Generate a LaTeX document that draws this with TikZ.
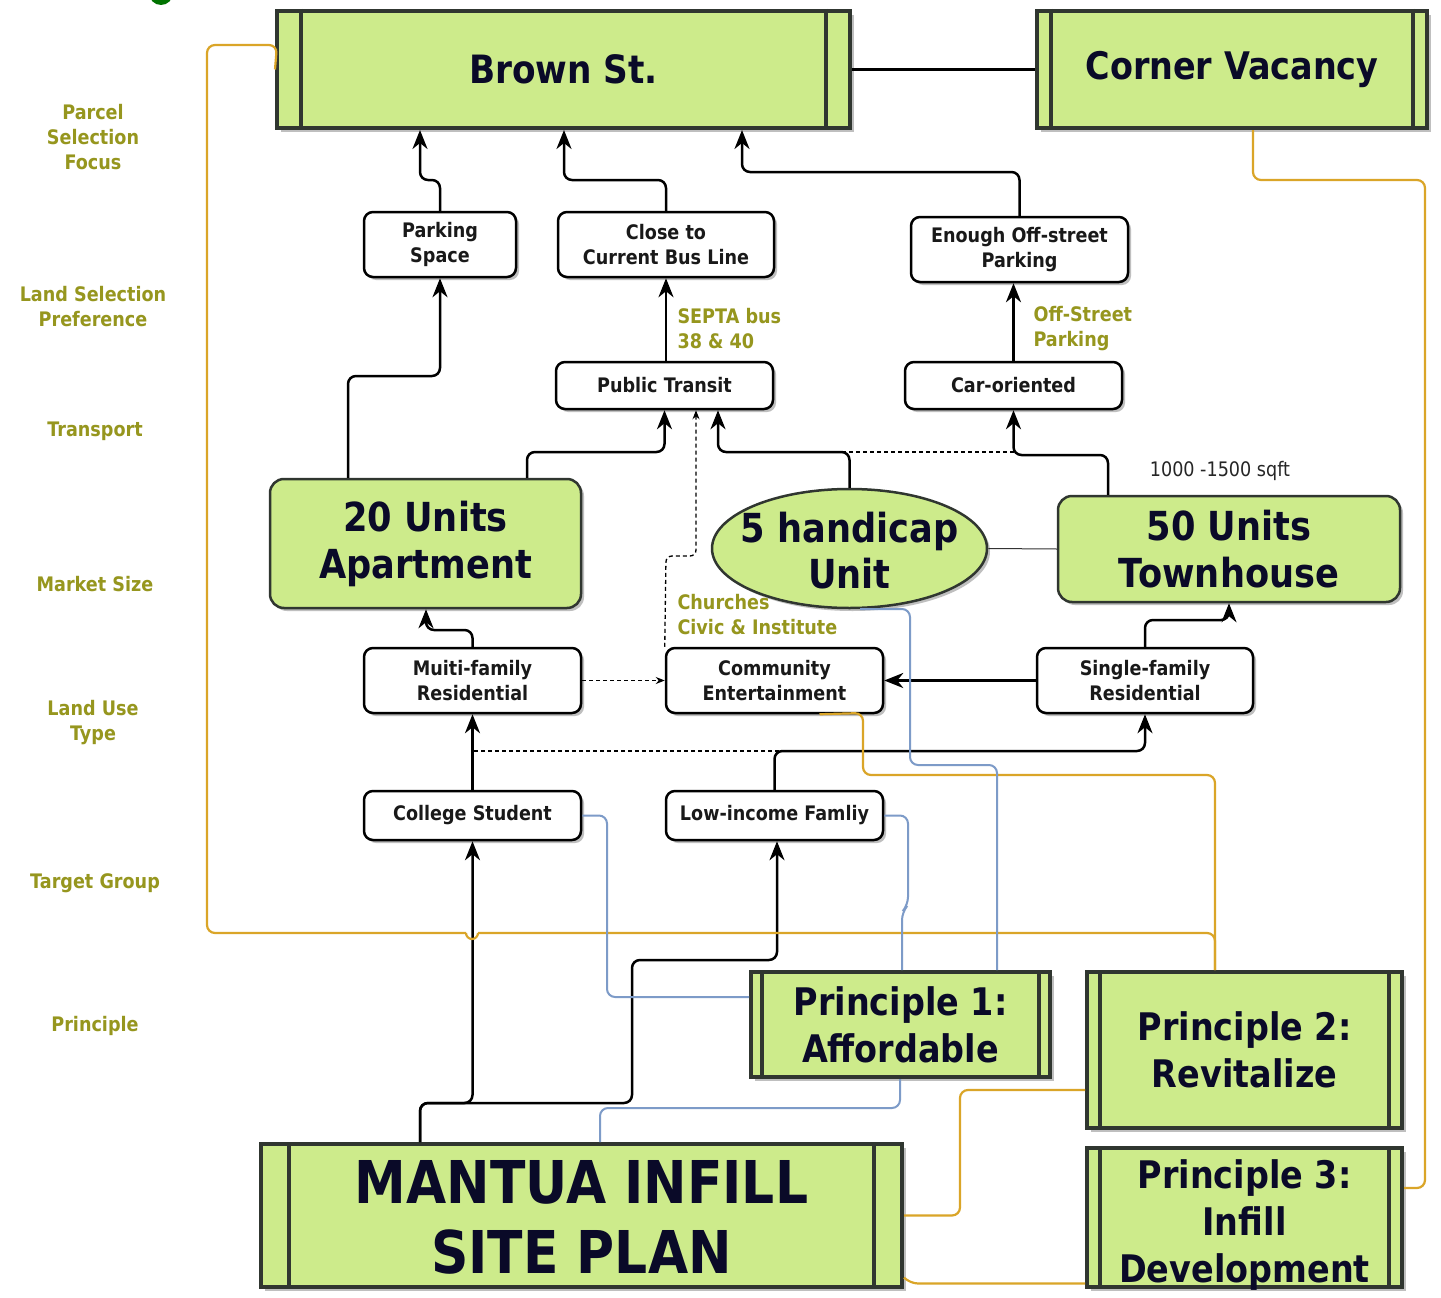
\documentclass[tikz,border=0pt]{standalone}
\usepackage{fontspec}
\setmainfont{DejaVu Sans}[FakeStretch=0.88]
\usetikzlibrary{arrows.meta,shapes.geometric,shadows}
\definecolor{boxgreen}{RGB}{205,235,139}
\definecolor{boxedge}{RGB}{48,54,48}
\definecolor{lbl}{RGB}{150,150,30}
\definecolor{goldc}{RGB}{218,165,40}
\definecolor{bluec}{RGB}{125,155,200}
\definecolor{navyc}{RGB}{10,10,40}
\newcommand\fs[2]{\fontsize{#1}{#2}\selectfont}
\newcommand\procbars[2]{%
  \draw[draw=boxedge, line width=3.5pt] ([xshift=#2pt]#1.north west) -- ([xshift=#2pt]#1.south west);
  \draw[draw=boxedge, line width=3.5pt] ([xshift=-#2pt]#1.north east) -- ([xshift=-#2pt]#1.south east);}
\tikzset{
  proc/.style={draw=boxedge, line width=4pt, fill=boxgreen, text=navyc, inner sep=0pt, align=center,
    drop shadow={shadow xshift=4pt, shadow yshift=-4pt, fill=black!25, opacity=1}},
  rbox/.style={draw=black, line width=2.5pt, fill=white, rounded corners=9pt, text=black!90, inner sep=0pt,
    align=center, font=\bfseries\fs{20}{25},
    drop shadow={shadow xshift=3pt, shadow yshift=-3pt, fill=black!25, opacity=1}},
  gbox/.style={draw=boxedge, line width=2.5pt, fill=boxgreen, rounded corners=14pt, text=navyc, inner sep=0pt,
    align=center, font=\bfseries\fs{40}{47},
    drop shadow={shadow xshift=3pt, shadow yshift=-3pt, fill=black!25, opacity=1}},
  conn/.style={draw=black, line width=2.5pt, rounded corners=8pt, -{Stealth[length=19pt,width=15pt,inset=6pt]}},
  dconn/.style={draw=black, line width=1.3pt, dash pattern=on 4pt off 3pt, rounded corners=6pt},
  goldln/.style={draw=goldc, line width=2.2pt, rounded corners=8pt},
  blueln/.style={draw=bluec, line width=2pt, rounded corners=8pt},
  side/.style={text=lbl, font=\bfseries\fs{20}{25}, align=center},
  note/.style={text=lbl, font=\bfseries\fs{20}{25}, align=left, anchor=west},
}
\begin{document}
\begin{tikzpicture}[x=1pt,y=-1pt]
\useasboundingbox (0,0) rectangle (1441,1298);
\fill[white] (0,0) rectangle (1441,1298);
\fill[green!45!black] (161,-7) circle (12);

% side labels
\node[side] (s1) at (93,137) {Parcel\\Selection\\Focus};
\node[side] (s2) at (93,307) {Land Selection\\Preference};
\node[side] (s3) at (95,431) {Transport};
\node[side] (s4) at (95,584) {Market Size};
\node[side] (s5) at (93,723) {Land Use\\Type};
\node[side] (s6) at (95,883) {Target Group};
\node[side] (s7) at (95,1026) {Principle};

% top process boxes
\node[proc, minimum width=573pt, minimum height=117pt, font=\bfseries\fs{39}{47}] (brown) at (563.5,69.5) {Brown St.};
\procbars{brown}{26}
\node[proc, minimum width=390pt, minimum height=117pt, font=\bfseries\fs{38}{47}] (corner) at (1232,69.5) {Corner Vacancy};
\procbars{corner}{16}
\draw[line width=3.5pt] (brown.east) -- (corner.west);

% rounded boxes
\node[rbox, minimum width=152pt, minimum height=65pt] (prkg) at (440,244.5) {Parking\\Space};
\node[rbox, minimum width=216pt, minimum height=65pt] (bus) at (666,244.5) {Close to\\Current Bus Line};
\node[rbox, minimum width=217pt, minimum height=65pt] (offst) at (1019.5,249.5) {Enough Off-street\\Parking};
\node[rbox, minimum width=217pt, minimum height=47pt] (transit) at (664.5,385.5) {Public Transit};
\node[rbox, minimum width=217pt, minimum height=47pt] (car) at (1013.5,385.5) {Car-oriented};

\node[note] (septa) at (674,329) {SEPTA bus\\38 \& 40};
\node[note] (offlbl) at (1030,329) {Off-Street\\Parking};
\node[font=\fs{20}{24}, text=black!85] (sqft) at (1220,471) {1000 -1500 sqft};

% market size
\node[gbox, minimum width=311pt, minimum height=129pt] (apt) at (425.5,543.5) {20 Units\\Apartment};
\node[draw=boxedge, line width=2.5pt, fill=boxgreen, ellipse, minimum width=275pt, minimum height=119pt, inner sep=0pt,
  drop shadow={shadow xshift=3pt, shadow yshift=-3pt, fill=black!25, opacity=1}] (hand) at (849.5,548.5) {};
\node[text=navyc, font=\bfseries\fs{40}{46}, align=center] (handtxt) at (849.5,551) {5 handicap\\Unit};
\node[gbox, minimum width=342pt, minimum height=106pt] (town) at (1229,549) {50 Units\\Townhouse};
\draw[line width=1pt, black!80] (hand.east) -- (town.west);

% land use
\node[rbox, minimum width=217pt, minimum height=65pt] (multi) at (472.5,680.5) {Muiti-family\\Residential};
\node[rbox, minimum width=217pt, minimum height=65pt] (comm) at (774.5,680.5) {Community\\Entertainment};
\node[rbox, minimum width=216pt, minimum height=65pt] (single) at (1145,680.5) {Single-family\\Residential};
\node[note] (church) at (674,615) {Churches\\Civic \& Institute};

% target group
\node[rbox, minimum width=217pt, minimum height=49pt] (college) at (472.5,815.5) {College Student};
\node[rbox, minimum width=217pt, minimum height=49pt] (low) at (774.5,815.5) {Low-income Famliy};

% principles
\node[proc, minimum width=299pt, minimum height=105pt, font=\bfseries\fs{38}{47}] (p1) at (900.5,1024.5) {Principle 1:\\Affordable};
\procbars{p1}{13}
\node[proc, minimum width=315pt, minimum height=156pt, font=\bfseries\fs{38}{47}] (p2) at (1244.5,1050) {Principle 2:\\Revitalize};
\procbars{p2}{15}
\node[proc, minimum width=641pt, minimum height=143pt] (mantua) at (581.5,1215.5) {};
\procbars{mantua}{30}
\node[text=navyc, font=\bfseries\fs{59}{70}, align=center] (mantuatxt) at (581.5,1217.5) {MANTUA INFILL\\SITE PLAN};
\node[proc, minimum width=315pt, minimum height=139pt] (p3) at (1244.5,1217.5) {};
\procbars{p3}{15}
\node[text=navyc, font=\bfseries\fs{38}{47}, align=center] (p3txt) at (1244.5,1225) {Principle 3:\\Infill\\Development};

% black connectors
\draw[conn] (prkg.north) -- (440,180) -- (420,180) -- ([xshift=-143.5pt]brown.south);
\draw[conn] (bus.north) -- (666,180) -- (564,180) -- ([xshift=0.5pt]brown.south);
\draw[conn] (offst.north) -- (1019.5,172) -- (742,172) -- ([xshift=178.5pt]brown.south);
\draw[conn] ([xshift=1.5pt]transit.north) -- (bus.south);
\draw[conn] (car.north) -- ([xshift=-6pt]offst.south);
\draw[conn] ([xshift=-77.5pt]apt.north) -- (348,376) -- (440,376) -- (prkg.south);
\draw[conn] ([xshift=101.5pt]apt.north) -- (527,452) -- (664.5,452) -- (transit.south);
\draw[conn] (hand.north) -- (849.5,452) -- (718,452) -- ([xshift=53.5pt]transit.south);
\draw[conn] ([xshift=-121pt]town.north) -- (1108,455) -- (1013.5,455) -- (car.south);
\draw[dconn] (723,452) -- (1013.5,452);
\draw[dconn, -{Stealth[length=9pt,width=7pt]}] (comm.north west) -- (666,556) -- (696,556) -- ([xshift=31.5pt]transit.south);
\draw[conn] (multi.north) -- (472.5,630) -- (426,630) -- ([xshift=0.5pt]apt.south);
\draw[dconn, -{Stealth[length=9pt,width=7pt]}] (multi.east) -- (comm.west);
\draw[conn] (single.west) -- (comm.east);
\draw[conn] (single.north) -- (1145,620) -- (1229,620) -- (town.south);
\draw[conn] (college.north) -- (multi.south);
\draw[dconn] (474,751) -- (785,751);
\draw[conn] (low.north) -- (774.5,751) -- (1145,751) -- (single.south);
\draw[conn] ([xshift=-161.5pt]mantua.north) -- (420,1103) -- (472.5,1103) -- (college.south);
\draw[conn] ([xshift=-161.5pt]mantua.north) -- (420,1103) -- (632,1103) -- (632,960) -- (777,960) -- ([xshift=2.5pt]low.south);

% gold lines
\draw[goldln] (brown.west) -- (277,45) -- (207,45) -- (207,933) -- (466,933);
\draw[draw=goldc, line width=2.2pt] (466,933) arc[start angle=180, end angle=0, radius=6];
\draw[goldln] (478,933) -- (1215,933) -- ([xshift=-29.5pt]p2.north);
\draw[goldln] ([xshift=45pt]comm.south) -- (863,713) -- (863,775) -- (1215,775) -- ([xshift=-29.5pt]p2.north);
\draw[goldln] ([xshift=21pt]corner.south) -- (1253,180) -- (1425,180) -- (1425,1188) -- ([yshift=29.5pt]p3.east);
\draw[goldln] (mantua.east) -- (960,1215.5) -- (960,1090) -- ([yshift=-40pt]p2.west);
\draw[goldln] ([yshift=-62pt]mantua.east) -- (910,1283.5) -- ([yshift=-66pt]p3.west);

% blue lines
\draw[blueln] (college.east) -- (607,815.5) -- (607,997) -- ([yshift=27.5pt]p1.west);
\draw[blueln] (low.east) -- (908,815.5) -- (908,905) -- (902,912) -- ([xshift=1.5pt]p1.north);
\draw[blueln] (hand.-80) -- (910,609) -- (910,765) -- (997,765) -- ([xshift=96.5pt]p1.north);
\draw[blueln] ([xshift=-0.5pt]p1.south) -- (900,1108) -- (600,1108) -- ([xshift=18.5pt]mantua.north);
\end{tikzpicture}
\end{document}
